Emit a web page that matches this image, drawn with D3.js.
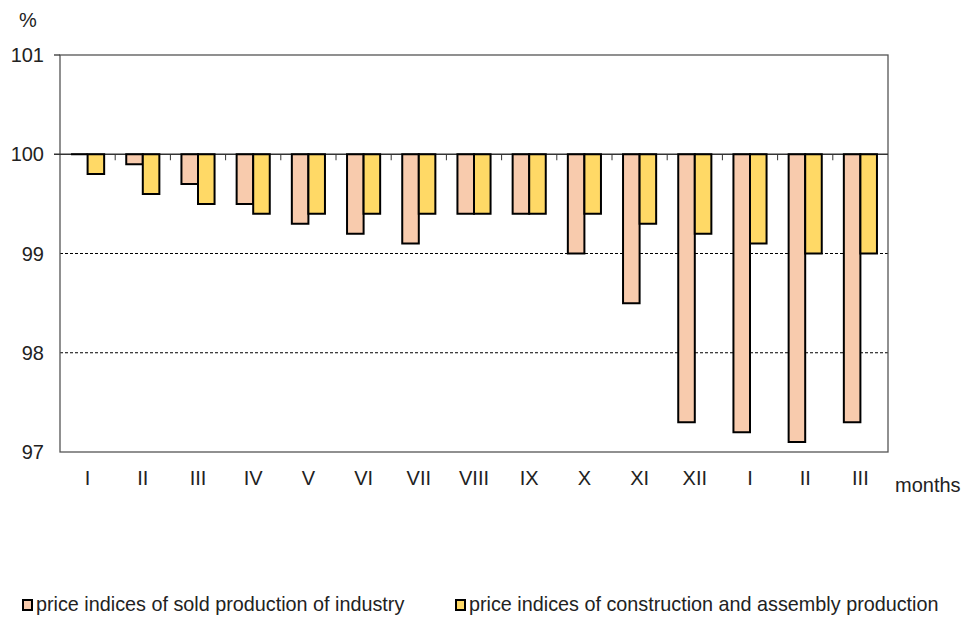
<!DOCTYPE html>
<html lang="en">
<head>
<meta charset="UTF-8">
<title>Price indices</title>
<script src="https://d3js.org/d3.v7.min.js"></script>
<style>
    body { margin: 0; background: #fff; }
    text { font-family: "Liberation Sans", Arial, sans-serif; fill: #222; }
</style>
</head>
<body>
<div id="chart"></div>
<script>
    // months on the x axis
    const months = ["I", "II", "III", "IV", "V", "VI", "VII", "VIII", "IX", "X", "XI", "XII", "I", "II", "III"];
    // price indices of sold production of industry
    const industry = [100.0, 99.9, 99.7, 99.5, 99.3, 99.2, 99.1, 99.4, 99.4, 99.0, 98.5, 97.3, 97.2, 97.1, 97.3];
    // price indices of construction and assembly production
    const construction = [99.8, 99.6, 99.5, 99.4, 99.4, 99.4, 99.4, 99.4, 99.4, 99.4, 99.3, 99.2, 99.1, 99.0, 99.0];
    const yTicks = [97, 98, 99, 100, 101];
    const seriesNames = ["price indices of sold production of industry", "price indices of construction and assembly production"];
    const colors = ["#F8CBAD", "#FFD966"];

    const width = 965, height = 619;
    const plotLeft = 60, plotRight = 888, plotTop = 55, plotBottom = 452;

    const svg = d3.select("#chart").append("svg")
        .attr("width", width)
        .attr("height", height);

    const x = d3.scaleBand().domain(d3.range(months.length)).range([plotLeft, plotRight]).paddingInner(0.4).paddingOuter(0.2);
    const x0 = d3.scaleBand().domain(d3.range(months.length)).range([plotLeft, plotRight]);
    const y = d3.scaleLinear().domain([97, 101]).range([plotBottom, plotTop]);

    // dashed grid lines
    svg.append("g")
        .selectAll("line")
        .data([98, 99])
        .enter()
        .append("line")
        .attr("x1", plotLeft).attr("x2", plotRight)
        .attr("y1", d => y(d)).attr("y2", d => y(d))
        .attr("stroke", "#000")
        .attr("stroke-width", 1)
        .attr("stroke-dasharray", "3,2");

    // plot frame
    svg.append("rect")
        .attr("x", plotLeft).attr("y", plotTop)
        .attr("width", plotRight - plotLeft).attr("height", plotBottom - plotTop)
        .attr("fill", "none")
        .attr("stroke", "#555")
        .attr("stroke-width", 1.3);

    // y axis labels
    svg.append("g")
        .selectAll("text")
        .data(yTicks)
        .enter()
        .append("text")
        .attr("x", 44)
        .attr("y", d => y(d) + 7)
        .attr("text-anchor", "end")
        .attr("font-size", 20)
        .text(d => d);

    svg.append("text").attr("x", 19).attr("y", 27).attr("font-size", 20).text("%");

    // x axis line at 100
    svg.append("line")
        .attr("x1", plotLeft - 6).attr("x2", plotRight)
        .attr("y1", y(100)).attr("y2", y(100))
        .attr("stroke", "#333").attr("stroke-width", 1.3);
    svg.append("line")
        .attr("x1", plotLeft - 6).attr("x2", plotLeft)
        .attr("y1", y(101)).attr("y2", y(101))
        .attr("stroke", "#333").attr("stroke-width", 1.3);

    // bars hang from 100 (paths so a zero-height bar still shows its outline)
    const bw = x.bandwidth() / 2;
    const data = [industry, construction];
    data.forEach((vals, s) => {
        svg.append("g")
            .selectAll("path")
            .data(vals)
            .enter()
            .append("path")
            .attr("d", (d, i) => {
                const x1 = x(i) + s * bw;
                return `M${x1},${y(100)}V${y(d)}H${x1 + bw}V${y(100)}Z`;
            })
            .attr("fill", colors[s])
            .attr("stroke", "#000")
            .attr("stroke-width", 2)
            .attr("stroke-linejoin", "miter");
    });

    // ticks between categories
    svg.append("g")
        .selectAll("line")
        .data(d3.range(1, months.length))
        .enter()
        .append("line")
        .attr("x1", d => x0(d)).attr("x2", d => x0(d))
        .attr("y1", y(100)).attr("y2", y(100) + 6)
        .attr("stroke", "#333").attr("stroke-width", 1);

    // month labels
    svg.append("g")
        .selectAll("text")
        .data(months)
        .enter()
        .append("text")
        .attr("x", (d, i) => x0(i) + x0.bandwidth() / 2)
        .attr("y", 485)
        .attr("text-anchor", "middle")
        .attr("font-size", 20)
        .text(d => d);

    svg.append("text").attr("x", 895).attr("y", 492).attr("font-size", 20).text("months");

    // legend
    const legendX = [23, 456];
    seriesNames.forEach((name, i) => {
        svg.append("rect")
            .attr("x", legendX[i]).attr("y", 600)
            .attr("width", 9).attr("height", 10)
            .attr("fill", colors[i])
            .attr("stroke", "#000").attr("stroke-width", 2);
        svg.append("text")
            .attr("x", legendX[i] + 13).attr("y", 611)
            .attr("font-size", 19.8)
            .text(name);
    });
</script>
</body>
</html>
